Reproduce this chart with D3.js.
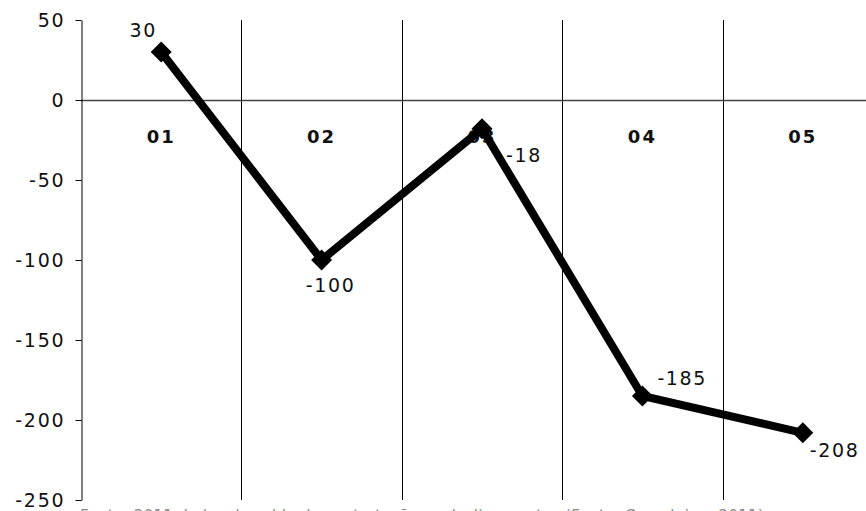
<!DOCTYPE html>
<html>
<head>
<meta charset="utf-8">
<script src="https://cdn.jsdelivr.net/npm/d3@7"></script>
<style>
  html, body { margin: 0; padding: 0; background: #fff; overflow: hidden; }
  svg { display: block; }
</style>
</head>
<body>
<svg id="chart" width="866" height="511"></svg>
<script>
// ---- data ----
const categories = ["01", "02", "03", "04", "05"];
const values = [30, -100, -18, -185, -208];
const yTicks = [50, 0, -50, -100, -150, -200, -250];
const sourceNote = "Fonte: 2011 dados de saldo de contratações e desligamentos (Fonte: Caged, jan. 2011)";

// label placement (layout, not data): dx, dy, anchor
const labelPlacement = [
  { dx: -18, dy: -15, anchor: "middle" },
  { dx: 9, dy: 32, anchor: "middle" },
  { dx: 24, dy: 33, anchor: "start" },
  { dx: 15, dy: -11, anchor: "start" },
  { dx: 7, dy: 24, anchor: "start" }
];

const FONT = "DejaVu Sans, Verdana, sans-serif";
const svg = d3.select("#chart");
const mLeft = 81, mRight = 883, mTop = 20, mBottom = 500;

const x = d3.scaleBand().domain(categories).range([mLeft, mRight]).padding(0);
const y = d3.scaleLinear().domain([-250, 50]).range([mBottom, mTop]);

// vertical gridlines at band boundaries
svg.append("g").selectAll("line")
  .data(categories.slice(1))
  .join("line")
  .attr("x1", d => Math.round(x(d)) + 0.5)
  .attr("x2", d => Math.round(x(d)) + 0.5)
  .attr("y1", mTop).attr("y2", mBottom)
  .attr("stroke", "#000").attr("stroke-width", 1);

// zero line
svg.append("line")
  .attr("x1", mLeft).attr("x2", 866)
  .attr("y1", Math.round(y(0)) + 0.5).attr("y2", Math.round(y(0)) + 0.5)
  .attr("stroke", "#444").attr("stroke-width", 1.3);

// y axis
const yAxis = d3.axisLeft(y).tickValues(yTicks).tickFormat(d => String(d))
  .tickSize(6).tickSizeOuter(0).tickPadding(10);
const gy = svg.append("g").attr("transform", `translate(${mLeft + 0.5},0)`).call(yAxis);
gy.select(".domain").attr("stroke", "#000");
gy.selectAll(".tick line").attr("stroke", "#000");
gy.selectAll(".tick text")
  .attr("font-family", FONT)
  .attr("font-size", 19).attr("letter-spacing", 1.8)
  .attr("fill", "#111").attr("dy", "0.36em");

// category labels
svg.append("g").selectAll("text")
  .data(categories)
  .join("text")
  .attr("x", d => x(d) + x.bandwidth() / 2)
  .attr("y", y(0) + 43)
  .attr("text-anchor", "middle")
  .attr("font-family", FONT)
  .attr("font-weight", "bold")
  .attr("font-size", 18)
  .attr("letter-spacing", 2)
  .attr("fill", "#111")
  .text(d => d);

// line
const pts = categories.map((c, i) => ({ c, v: values[i], i }));
const line = d3.line().x(d => x(d.c) + x.bandwidth() / 2).y(d => y(d.v));
svg.append("path")
  .datum(pts)
  .attr("d", line)
  .attr("fill", "none")
  .attr("stroke", "#000")
  .attr("stroke-width", 8)
  .attr("stroke-linejoin", "miter");

// diamond markers
svg.append("g").selectAll("path")
  .data(pts)
  .join("path")
  .attr("transform", d => `translate(${x(d.c) + x.bandwidth() / 2},${y(d.v)})`)
  .attr("d", d3.symbol().type(d3.symbolDiamond2).size(280))
  .attr("fill", "#000");

// data labels
svg.append("g").selectAll("text")
  .data(pts)
  .join("text")
  .attr("x", d => x(d.c) + x.bandwidth() / 2 + labelPlacement[d.i].dx)
  .attr("y", d => y(d.v) + labelPlacement[d.i].dy)
  .attr("text-anchor", d => labelPlacement[d.i].anchor)
  .attr("font-family", FONT)
  .attr("font-size", 19)
  .attr("letter-spacing", 1.6)
  .attr("fill", "#111")
  .text(d => String(d.v));

// source note (cut off at bottom, as in the reference)
svg.append("text")
  .attr("x", 80).attr("y", 521)
  .attr("font-family", FONT)
  .attr("font-size", 15)
  .attr("letter-spacing", 0.3)
  .attr("fill", "#888")
  .text(sourceNote);
</script>
</body>
</html>
